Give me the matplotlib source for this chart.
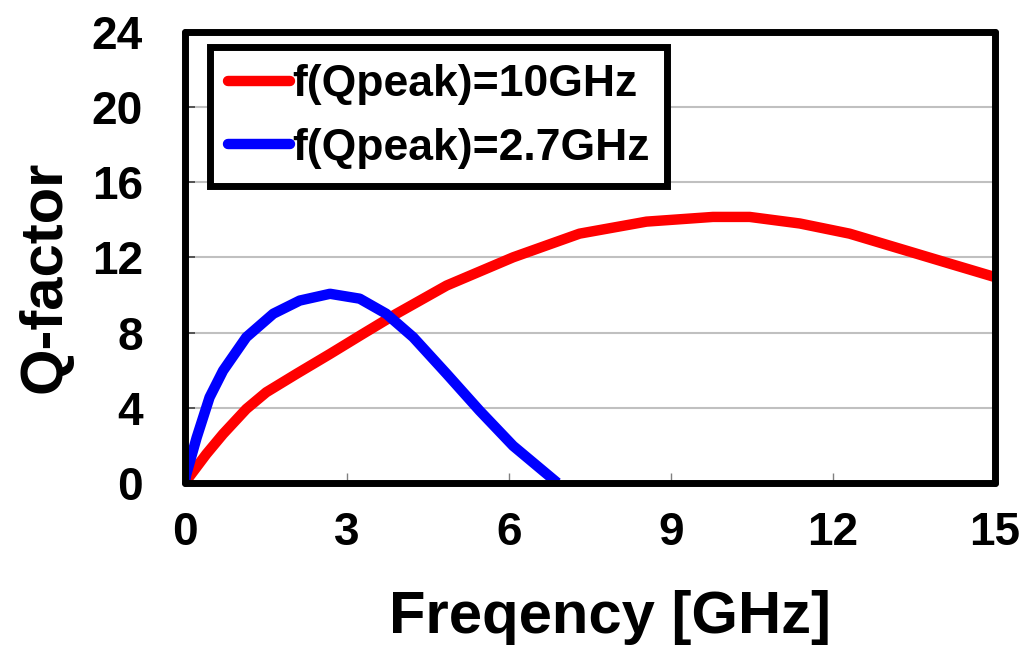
import matplotlib
matplotlib.use('Agg')
import matplotlib.pyplot as plt

plt.rcParams['font.family'] = ['Liberation Sans', 'DejaVu Sans']
plt.rcParams['font.weight'] = 'bold'

# data
red_x = [0, 0.4, 0.71, 1.14, 1.51, 2.07, 2.69, 3.3, 3.86, 4.85, 6.08, 7.31, 8.55, 9.78, 10.46, 11.39, 12.31, 13.24, 14.17, 15]
red_y = [0, 1.53, 2.6, 3.93, 4.82, 5.8, 6.86, 7.93, 8.9, 10.5, 12.0, 13.26, 13.9, 14.15, 14.15, 13.8, 13.26, 12.46, 11.66, 10.95]
blue_x = [0, 0.03, 0.22, 0.46, 0.71, 1.14, 1.64, 2.13, 2.69, 3.24, 3.73, 4.23, 4.85, 5.46, 6.08, 6.9]
blue_y = [0, 0.46, 2.4, 4.55, 5.97, 7.75, 9.0, 9.7, 10.06, 9.8, 9.0, 7.75, 5.8, 3.84, 1.97, 0]
red_label = 'f(Qpeak)=10GHz'
blue_label = 'f(Qpeak)=2.7GHz'
xticks = [0, 3, 6, 9, 12, 15]
yticks = [0, 4, 8, 12, 16, 20, 24]

fig = plt.figure(figsize=(10.32, 6.49), dpi=100)
ax = fig.add_axes([0.179, 0.256, 0.785, 0.695])

for y in yticks[1:-1]:
    ax.axhline(y, color='#c0c0c0', lw=1.5, zorder=1)

ax.plot(red_x, red_y, color='#ff0000', lw=7.5, label=red_label, zorder=3,
        solid_capstyle='butt', solid_joinstyle='round')
ax.plot(blue_x, blue_y, color='#0000ff', lw=7.5, label=blue_label, zorder=3,
        solid_capstyle='butt', solid_joinstyle='round')

ax.set_xlim(0, 15)
ax.set_ylim(0, 24)
ax.set_xticks(xticks)
ax.set_yticks(yticks)
ax.tick_params(axis='x', direction='in', length=7, width=1, color='#808080', pad=20, labelsize=33)
ax.tick_params(axis='y', direction='in', length=7, width=1.2, color='#404040', pad=30, labelsize=33)
for lab in ax.get_xticklabels() + ax.get_yticklabels():
    lab.set_fontweight('bold')

for s in ax.spines.values():
    s.set_linewidth(5)
    s.set_capstyle('round')
    s.set_zorder(5)

ax.set_xlabel('Freqency [GHz]', fontsize=43, fontweight='bold')
ax.xaxis.set_label_coords(0.525, -0.238)
ax.set_ylabel('Q-factor', fontsize=43, fontweight='bold')
ax.yaxis.set_label_coords(-0.139, 0.457)

leg = ax.legend(loc='upper left', bbox_to_anchor=(0.031, 0.967), fontsize=32,
                frameon=True, fancybox=False, edgecolor='black', framealpha=1,
                handlelength=1.4, handletextpad=0.05, labelspacing=0.5,
                borderpad=0.4, borderaxespad=0)
leg.get_frame().set_linewidth(5)
leg.set_zorder(6)
for line in leg.get_lines():
    line.set_linewidth(7.5)
    line.set_solid_capstyle('round')
for t in leg.get_texts():
    t.set_fontweight('bold')

fig.savefig('out.png', dpi=100)
